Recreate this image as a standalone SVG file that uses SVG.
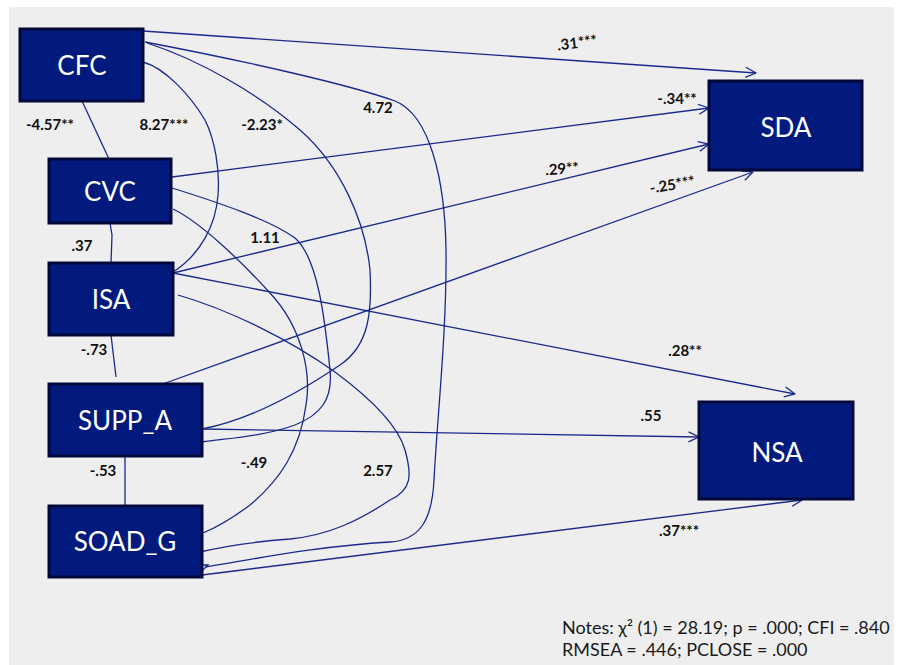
<svg xmlns="http://www.w3.org/2000/svg" width="900" height="665" viewBox="0 0 900 665">
<style>
.node rect{fill:#021a7e;stroke:#00083a;stroke-width:3}
.node text{fill:#ffffff;font-family:Lato,"Open Sans",sans-serif;font-size:26px;text-anchor:middle;dominant-baseline:central}
.ln{fill:none;stroke:#1a2a8c;stroke-width:1.3}
.lbl{fill:#111111;font-family:Lato,"Open Sans",sans-serif;font-size:15px;font-weight:bold;text-anchor:middle;dominant-baseline:central}
.note{fill:#1a1a1a;font-family:Lato,"Open Sans",sans-serif;font-size:18px}
</style>
<defs>
<marker id="arr" viewBox="0 0 12 12" refX="11.5" refY="6" markerWidth="12" markerHeight="12" markerUnits="userSpaceOnUse" orient="auto">
<path d="M1,1 L11.5,6 L1,11" fill="none" stroke="#1a2a8c" stroke-width="1.3"/>
</marker>
</defs>
<rect x="0" y="0" width="900" height="665" fill="#ffffff"/>
<rect x="9" y="7" width="885" height="658" fill="#eeeeee"/>

<g id="connectors">
<line class="ln" x1="143" y1="31" x2="756" y2="73" marker-end="url(#arr)"/>
<line class="ln" x1="172" y1="177" x2="709" y2="108" marker-end="url(#arr)"/>
<line class="ln" x1="173" y1="273" x2="709" y2="144" marker-end="url(#arr)"/>
<line class="ln" x1="160" y1="385" x2="753" y2="172" marker-end="url(#arr)"/>
<line class="ln" x1="173" y1="273" x2="795" y2="394" marker-end="url(#arr)"/>
<line class="ln" x1="202" y1="429" x2="699" y2="437" marker-end="url(#arr)"/>
<line class="ln" x1="202" y1="575" x2="802" y2="500" marker-end="url(#arr)"/>

<line class="ln" x1="82" y1="101" x2="109" y2="159"/>
<path class="ln" d="M110,223 L112,235 L111,263"/>
<line class="ln" x1="111" y1="335" x2="116" y2="377"/>
<line class="ln" x1="125" y1="456" x2="125" y2="506"/>

<path class="ln" d="M143,62 C165,68 190,95 205,120 C215,140 220,170 218,195 C216,225 200,255 173,272"/>
<path class="ln" d="M147,43 C200,60 260,95 300,130 C340,165 365,220 370,270 C372,310 370,345 340,365 C300,392 250,420 202,429"/>
<path class="ln" d="M145,42 C250,62 350,85 395,101 C430,115 445,180 446,250 C447,330 437,420 434,480 C432,520 420,540 390,542 C320,546 260,558 205,567"/>
<path class="ln" d="M173,209 C200,222 240,260 270,293 C300,325 312,370 306,405 C300,450 280,480 250,505 C230,520 215,528 203,533"/>
<path class="ln" d="M172,188 C220,203 270,220 295,238 C318,258 325,320 330,370 C333,400 320,415 295,425 C265,436 230,438 202,442"/>
<path class="ln" d="M178,295 C230,310 290,340 335,372 C370,398 398,425 405,450 C412,475 412,490 390,500 C360,520 330,535 290,539 C250,542 225,546 200,552"/>
<path class="ln" d="M200,565 L208,565 L203,570 Z"/>
</g>

<g id="labels">
<text class="lbl" x="50" y="124">-4.57**</text>
<text class="lbl" x="164" y="124">8.27***</text>
<text class="lbl" x="262" y="124">-2.23*</text>
<text class="lbl" x="378" y="107">4.72</text>
<text class="lbl" x="82" y="245">.37</text>
<text class="lbl" x="265" y="237">1.11</text>
<text class="lbl" x="94" y="349">-.73</text>
<text class="lbl" x="103" y="470">-.53</text>
<text class="lbl" x="254" y="462">-.49</text>
<text class="lbl" x="378" y="470">2.57</text>
<text class="lbl" x="577" y="42" transform="rotate(-7 577 42)">.31***</text>
<text class="lbl" x="677" y="98">-.34**</text>
<text class="lbl" x="562" y="168" transform="rotate(-4 562 168)">.29**</text>
<text class="lbl" x="672" y="184" transform="rotate(-9 672 184)">-.25***</text>
<text class="lbl" x="685" y="350">.28**</text>
<text class="lbl" x="651" y="415">.55</text>
<text class="lbl" x="679" y="530">.37***</text>
</g>

<g id="CFC" class="node"><rect x="20" y="29" width="123" height="72"/><text x="82" y="65">CFC</text></g>
<g id="CVC" class="node"><rect x="49" y="159" width="122" height="64"/><text x="110" y="191">CVC</text></g>
<g id="ISA" class="node"><rect x="49" y="263" width="124" height="72"/><text x="111" y="299">ISA</text></g>
<g id="SUPP_A" class="node"><rect x="49" y="384" width="153" height="72"/><text x="125" y="420">SUPP_A</text></g>
<g id="SOAD_G" class="node"><rect x="49" y="506" width="153" height="71"/><text x="125" y="541">SOAD_G</text></g>
<g id="SDA" class="node"><rect x="709" y="81" width="153" height="89"/><text x="786" y="127">SDA</text></g>
<g id="NSA" class="node"><rect x="699" y="402" width="154" height="97"/><text x="777" y="452">NSA</text></g>

<g id="notes">
<text class="note" x="562" y="634">Notes: χ² (1) = 28.19; p = .000; CFI = .840</text>
<text class="note" x="562" y="656">RMSEA = .446; PCLOSE =  .000</text>
</g>
</svg>
